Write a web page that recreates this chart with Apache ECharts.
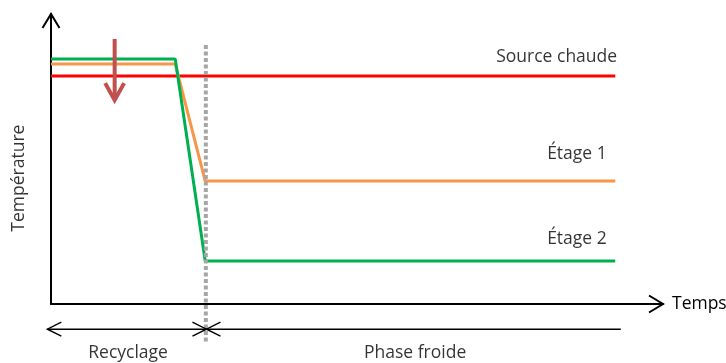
<!DOCTYPE html>
<html>
<head>
<meta charset="utf-8">
<script src="https://cdn.jsdelivr.net/npm/echarts@6/dist/echarts.min.js"></script>
<style>
html,body{margin:0;padding:0;background:#fff;}
#chart{width:726px;height:363px;}
</style>
</head>
<body>
<div id="chart"></div>
<script>
// ---- data ----
const timePoints   = [0, 20.3, 25.2, 92.2];
const sourceChaude = [78.6, 78.6, 78.6, 78.6];
const etage1       = [82.8, 82.8, 42.4, 42.4];
const etage2       = [84.5, 84.5, 14.8, 14.8];

const phaseBoundaryX = 25.3;
const phaseBoundaryY = [89.3, -13.1];

// red "cooling" arrow: [x, yStart, yEnd]
const coolingArrow = [10.4, 91.4, 70.3];

// phase arrows: [x1, y, x2, headAtStart, headAtEnd]
const phaseArrows = [
  [-0.6, -8.7, 25.4, 1, 1],
  [25.4, -8.7, 93.1, 1, 0]
];
const phaseNames = ['Recyclage', 'Phase froide'];
const phaseLabelX = [12.6, 59.5];
const phaseLabelY = -16.9;

const seriesNames = ['Source chaude', 'Étage 1', 'Étage 2'];
const seriesLabelX = [92.5, 90.8, 90.8];
const seriesLabelY = [85.2, 51.7, 22.4];

const yTitle = 'Température';
const yTitlePos = [-5.2, 43.4];
const xTitle = 'Temps';

const xMax = 100, yMax = 100;

// ---- chart ----
const FONT = '"Open Sans", sans-serif';
const TXT = '#000';
const FS = 17.5;

function pairs(xs, ys) { return xs.map((x, i) => [x, ys[i]]); }

function head(tip, from, L, W) {
  const dx = tip[0] - from[0], dy = tip[1] - from[1];
  const len = Math.sqrt(dx * dx + dy * dy) || 1;
  const ux = dx / len, uy = dy / len, nx = -uy, ny = ux;
  const bx = tip[0] - ux * L, by = tip[1] - uy * L;
  return [[bx + nx * W, by + ny * W], tip, [bx - nx * W, by - ny * W]];
}

const chart = echarts.init(document.getElementById('chart'), null, {renderer: 'canvas'});

const option = {
  animation: false,
  backgroundColor: '#fff',
  grid: {left: 51, right: 63, top: 14, bottom: 59, containLabel: false, outerBoundsMode: 'none'},
  xAxis: {
    type: 'value', min: 0, max: xMax,
    name: xTitle, nameLocation: 'end', nameGap: 9,
    nameTextStyle: {fontFamily: FONT, fontSize: FS, color: TXT, verticalAlign: 'middle'},
    axisLine: {show: true, lineStyle: {color: '#000', width: 2}},
    axisTick: {show: false}, axisLabel: {show: false}, splitLine: {show: false}
  },
  yAxis: {
    type: 'value', min: 0, max: yMax,
    axisLine: {show: true, lineStyle: {color: '#000', width: 2}},
    axisTick: {show: false}, axisLabel: {show: false}, splitLine: {show: false}
  },
  series: [
    {
      name: seriesNames[0], type: 'line', data: pairs(timePoints, sourceChaude),
      symbol: 'none', lineStyle: {color: '#ff0000', width: 3}, z: 2
    },
    {
      name: seriesNames[1], type: 'line', data: pairs(timePoints, etage1),
      symbol: 'none', lineStyle: {color: '#f79646', width: 3}, z: 3
    },
    {
      name: seriesNames[2], type: 'line', data: pairs(timePoints, etage2),
      symbol: 'none', lineStyle: {color: '#00b050', width: 3}, z: 4
    },
    {
      name: 'boundary', type: 'line', clip: false,
      data: [[phaseBoundaryX, phaseBoundaryY[0]], [phaseBoundaryX, phaseBoundaryY[1]]],
      symbol: 'none', lineStyle: {color: '#a6a6a6', width: 4, type: [4, 2.5]}, z: 5
    },
    {
      name: 'axisHeads', type: 'custom', clip: false, z: 6,
      data: [[xMax, 0, 0, 0], [0, yMax, 0, 0]],
      renderItem: function (params, api) {
        const tip = api.coord([api.value(0), api.value(1)]);
        const from = api.coord([api.value(2), api.value(3)]);
        return {
          type: 'polyline', shape: {points: head(tip, from, 14, 8.5)},
          style: {stroke: '#000', lineWidth: 2, fill: null, lineJoin: 'miter'}
        };
      }
    },
    {
      name: 'cooling', type: 'custom', clip: false, z: 7,
      data: [coolingArrow],
      renderItem: function (params, api) {
        const p1 = api.coord([api.value(0), api.value(1)]);
        const p2 = api.coord([api.value(0), api.value(2)]);
        return {
          type: 'group', children: [
            {type: 'line', shape: {x1: p1[0], y1: p1[1], x2: p2[0], y2: p2[1] - 2},
              style: {stroke: '#c0504d', lineWidth: 4}},
            {type: 'polyline', shape: {points: head([p2[0], p2[1]], p1, 17, 9.5)},
              style: {stroke: '#c0504d', lineWidth: 4, fill: null, lineJoin: 'miter'}}
          ]
        };
      }
    },
    {
      name: 'phases', type: 'custom', clip: false, z: 7,
      data: phaseArrows,
      renderItem: function (params, api) {
        const p1 = api.coord([api.value(0), api.value(1)]);
        const p2 = api.coord([api.value(2), api.value(1)]);
        const children = [
          {type: 'line', shape: {x1: p1[0], y1: p1[1], x2: p2[0], y2: p2[1]},
            style: {stroke: '#000', lineWidth: 1.4}}
        ];
        if (api.value(3)) children.push({type: 'polyline', shape: {points: head(p1, p2, 14, 7)},
          style: {stroke: '#000', lineWidth: 1.4, fill: null}});
        if (api.value(4)) children.push({type: 'polyline', shape: {points: head(p2, p1, 14, 7)},
          style: {stroke: '#000', lineWidth: 1.4, fill: null}});
        return {type: 'group', children: children};
      }
    },
    {
      name: 'texts', type: 'scatter', clip: false, z: 8,
      symbolSize: 1, itemStyle: {color: 'rgba(0,0,0,0)'},
      label: {show: true, position: 'inside', fontFamily: FONT, fontSize: FS, color: TXT, verticalAlign: 'middle'},
      data: [].concat(
        seriesNames.map((n, i) => ({value: [seriesLabelX[i], seriesLabelY[i]],
          label: {formatter: n, align: 'right'}})),
        phaseNames.map((n, i) => ({value: [phaseLabelX[i], phaseLabelY],
          label: {formatter: n, align: 'center'}})),
        [{value: yTitlePos, label: {formatter: yTitle, align: 'center', rotate: 90}}]
      )
    }
  ]
};
chart.setOption(option);
</script>
</body>
</html>
